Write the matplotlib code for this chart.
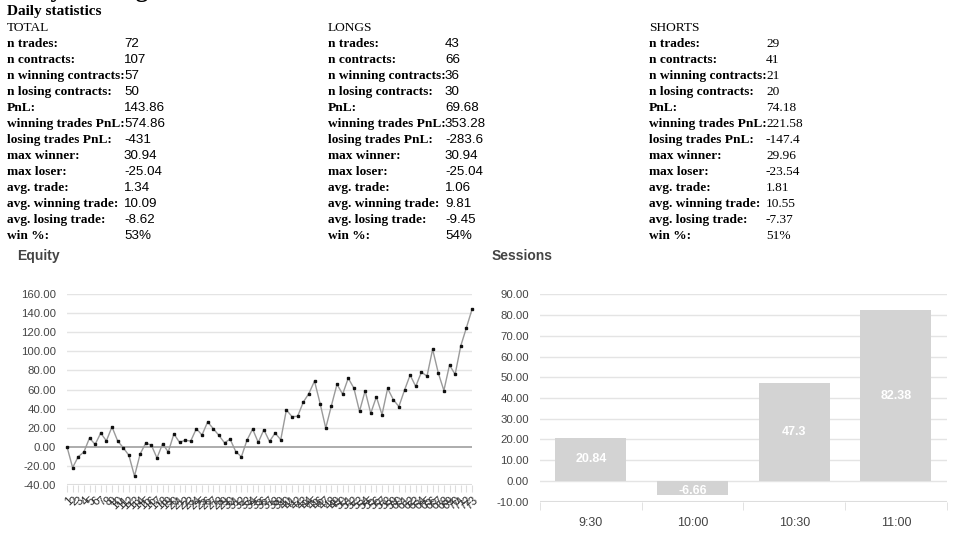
import matplotlib
matplotlib.use("Agg")
import matplotlib.pyplot as plt

# stats table
stat_labels = [
    "n trades:", "n contracts:", "n winning contracts:", "n losing contracts:",
    "PnL:", "winning trades PnL:", "losing trades PnL:", "max winner:",
    "max loser:", "avg. trade:", "avg. winning trade:", "avg. losing trade:",
    "win %:",
]
group_names = ["TOTAL", "LONGS", "SHORTS"]
total_vals = ["72", "107", "57", "50", "143.86", "574.86", "-431", "30.94",
              "-25.04", "1.34", "10.09", "-8.62", "53%"]
longs_vals = ["43", "66", "36", "30", "69.68", "353.28", "-283.6", "30.94",
              "-25.04", "1.06", "9.81", "-9.45", "54%"]
shorts_vals = ["29", "41", "21", "20", "74.18", "221.58", "-147.4", "29.96",
               "-23.54", "1.81", "10.55", "-7.37", "51%"]

# equity curve (cumulative PnL per trade)
equity = [0, -21.8, -10.3, -5.5, 9.2, 2.5, 14.4, 6.2, 20.9, 6.2,
          -1, -8.9, -30.7, -7.6, 3.9, 1.7, -11.8, 3.3, -5.5, 13.5,
          4.7, 6.8, 6.1, 19, 12.3, 26, 19, 12, 4.2, 8,
          -5, -10.5, 7, 18.6, 4.6, 17.9, 5.6, 14.4, 7.4, 38.6,
          31.6, 31.9, 46.7, 55.8, 68.8, 45.3, 19.6, 43, 65.5, 55.1,
          71.9, 61.4, 37.2, 58.6, 35.1, 52.3, 33.7, 61.1, 49.5, 42.1,
          59.3, 75.1, 63.2, 78.2, 74, 102.1, 77.5, 58.9, 85.6, 75.8,
          105.6, 124.6, 143.86]
trade_no = list(range(1, len(equity) + 1))

# sessions
sessions = ["9:30", "10:00", "10:30", "11:00"]
session_pnl = [20.84, -6.66, 47.3, 82.38]

W, H = 979, 552
fig = plt.figure(figsize=(W / 100, H / 100), dpi=100)

def fx(px):
    return px / W

def fy(py):
    return 1 - py / H

serif = "Liberation Serif"
sans = "Liberation Sans"

# title cut off at the very top (only descenders visible)
fig.text(fx(6), fy(-2.5), "Daily trading", fontsize=18, fontweight="bold",
         family=serif, va="baseline", ha="left")
fig.text(fx(7), fy(11), "Daily statistics", fontsize=11, fontweight="bold",
         family=serif, va="center", ha="left")

cols = [(7, 124, total_vals, sans), (328, 445, longs_vals, sans),
        (649, 766, shorts_vals, serif)]
for (lx, vx, vals, vfam), name in zip(cols, group_names):
    fig.text(fx(lx), fy(28), name, fontsize=9.6, family=serif, va="center")
    for i, (lab, v) in enumerate(zip(stat_labels, vals)):
        y = 44 + 16 * i
        fig.text(fx(lx), fy(y), lab, fontsize=9.65, family=serif,
                 fontweight="bold", va="center")
        fig.text(fx(vx), fy(y), v, fontsize=9.6, family=vfam, va="center")

# ---- equity chart
fig.text(fx(17), fy(256), "Equity", fontsize=10, fontweight="bold",
         family=sans, color="#444444", va="center")
ax = fig.add_axes([fx(67), fy(485), (472 - 67) / W, (485 - 294) / H])
ax.set_xlim(1, len(equity))
ax.set_ylim(-40, 160)
yt = list(range(-40, 161, 20))
ax.set_yticks(yt)
ax.set_yticklabels([f"{v:.2f}" for v in yt], family=sans, fontsize=8.2,
                   color="#444444")
for v in yt:
    if v == 0:
        ax.axhline(v, color="#9e9e9e", lw=1.2, zorder=1)
    elif v == -40:
        ax.axhline(v, color="#dddddd", lw=1.5, zorder=1)
    else:
        ax.axhline(v, color="#e4e4e4", lw=1, zorder=1)
ax.plot(trade_no, equity, color="#9a9a9a", lw=1, zorder=2, clip_on=False)
ax.plot(trade_no, equity, ls="none", marker="s", ms=1.8, color="#111111",
        zorder=3, clip_on=False)
ax.set_xticks(trade_no)
ax.set_xticklabels([str(t) for t in trade_no], rotation=45, ha="right",
                   rotation_mode="anchor", fontsize=8.5, family=sans,
                   color="#333333")
ax.tick_params(axis="x", length=5, color="#dddddd", pad=2)
ax.tick_params(axis="y", length=0, pad=8)
for s in ax.spines.values():
    s.set_visible(False)

# ---- sessions chart
fig.text(fx(492), fy(256), "Sessions", fontsize=10, fontweight="bold",
         family=sans, color="#444444", va="center")
bx = fig.add_axes([fx(540), fy(501.7), (946.7 - 540) / W, (501.7 - 294.3) / H])
bx.set_xlim(-0.5, len(sessions) - 0.5)
bx.set_ylim(-10, 90)
yt2 = list(range(-10, 91, 10))
bx.set_yticks(yt2)
bx.set_yticklabels([f"{v:.2f}" for v in yt2], family=sans, fontsize=8.2,
                   color="#444444")
for v in yt2:
    bx.axhline(v, color="#e4e4e4", lw=1, zorder=1)
bx.axhline(-10, color="#dddddd", lw=1.5, zorder=1)
xs = list(range(len(sessions)))
bars = bx.bar(xs, session_pnl, width=0.7, color="#d3d3d3", zorder=2)
for b, v in zip(bars, session_pnl):
    bx.text(b.get_x() + b.get_width() / 2, v / 2 - (1.5 if v < 0 else 0),
            f"{v:g}", ha="center", va="center", color="white",
            fontsize=9, fontweight="bold", family=sans, zorder=3,
            clip_on=True)
bx.set_xticks(xs)
bx.set_xticklabels(sessions, family=sans, fontsize=9, color="#444444")
bx.set_xticks([x - 0.5 for x in range(len(sessions) + 1)], minor=True)
bx.tick_params(axis="x", which="major", length=0, pad=11)
bx.tick_params(axis="x", which="minor", length=6, color="#dddddd")
bx.tick_params(axis="y", length=0, pad=8)
for s in bx.spines.values():
    s.set_visible(False)

fig.savefig("out.png", dpi=100)
